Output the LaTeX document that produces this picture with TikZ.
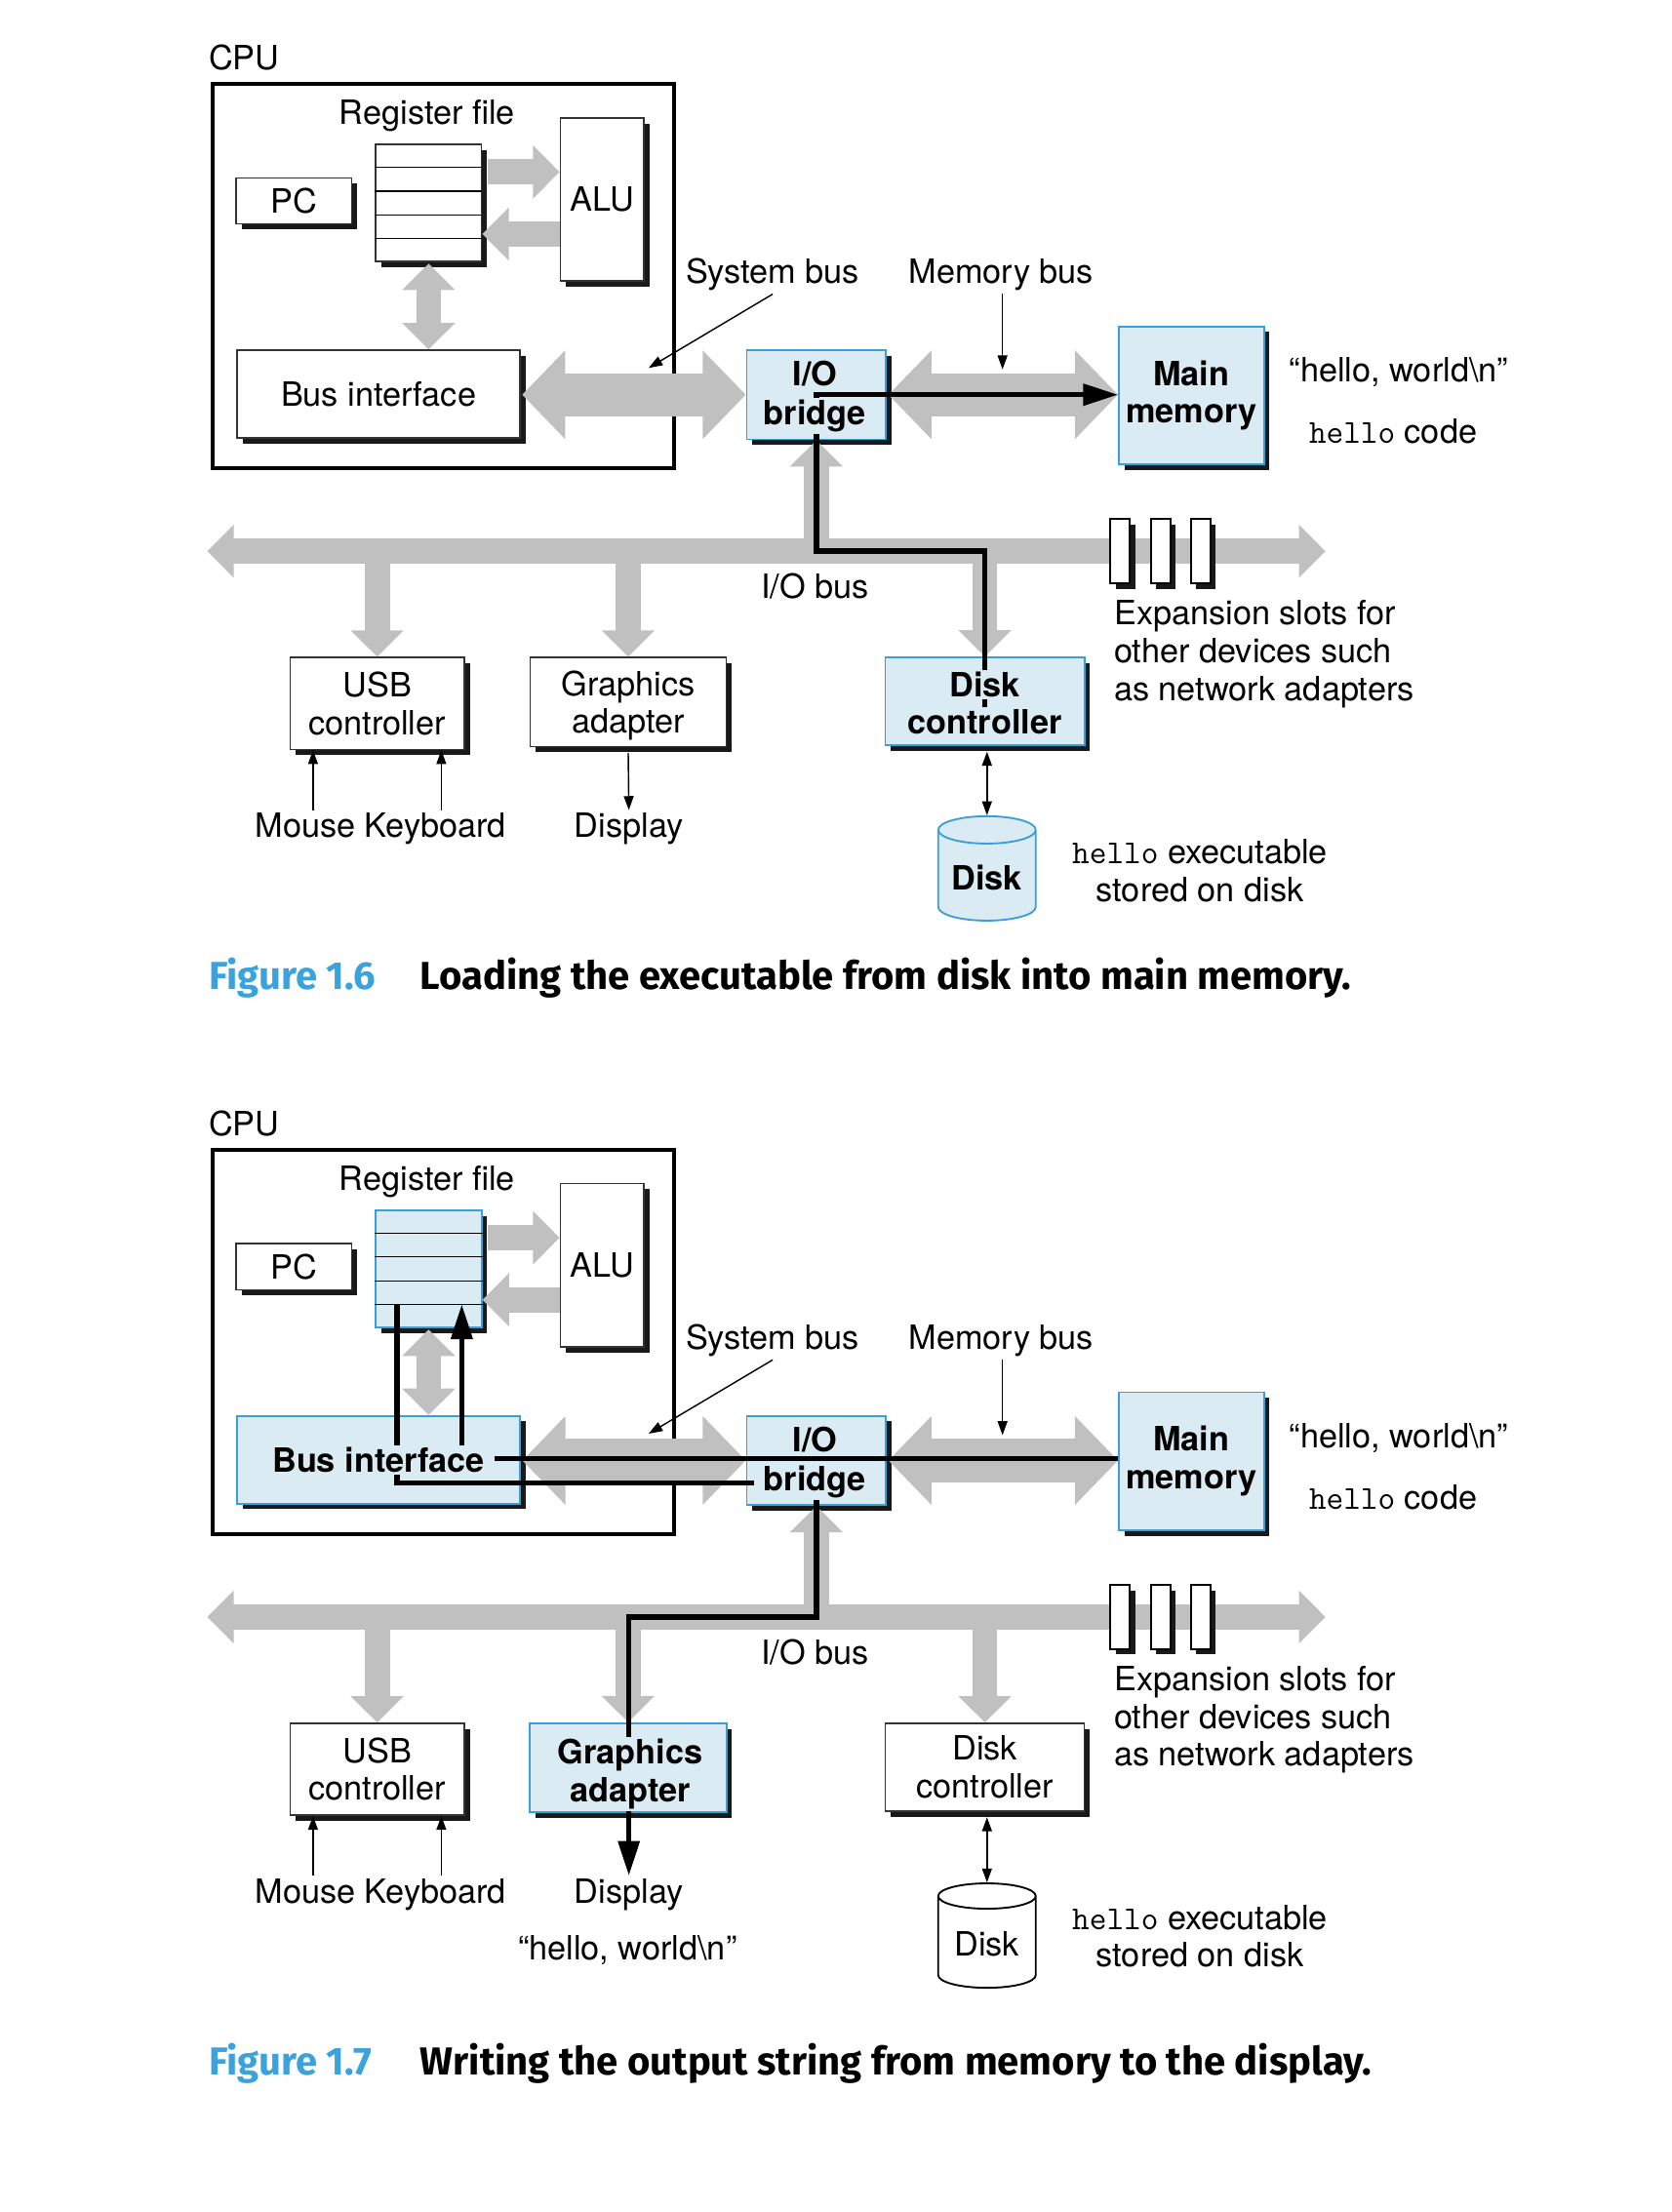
\documentclass[tikz,border=0pt]{standalone}
\usepackage{fontspec}
\setmainfont{TeX Gyre Heros}
\newfontfamily\capfont{Fira Sans}
\usetikzlibrary{arrows.meta,shadows,shapes.geometric,calc}
\definecolor{busgray}{HTML}{C0C0C0}
\definecolor{boxblue}{HTML}{DBEBF3}
\definecolor{edgeblue}{HTML}{3A9FD9}
\definecolor{figblue}{HTML}{3BA2DC}
\definecolor{boxedge}{HTML}{333333}
\tikzset{
  gtip/.tip={Triangle[length=19pt,width=37pt]},
  btip/.tip={Triangle[length=31pt,width=62pt]},
  dtip/.tip={Triangle[length=25pt,width=15pt]},
  ptip/.tip={Triangle[length=10pt,width=7pt]}
}
\begin{document}
\fontsize{24pt}{27pt}\selectfont
\begin{tikzpicture}[x=1.012pt, y=-1.012pt, inner sep=2pt,
  main box/.style={draw=boxedge, line width=1pt, fill=white, inner sep=0pt, align=center,
    drop shadow={shadow xshift=4pt, shadow yshift=-4pt, fill=black!90, opacity=1}},
  blue box/.style={main box, draw=edgeblue, line width=1.3pt, fill=boxblue, font=\bfseries},
  knock/.style={fill=boxblue, inner xsep=7pt, inner ysep=1.5pt, font=\bfseries, anchor=base},
  caption/.style={anchor=base west, font=\capfont\bfseries\fontsize{28pt}{32pt}\selectfont},
  bus/.style={draw=busgray, line width=31pt},
  link/.style={draw=busgray, line width=18pt},
  data/.style={line width=3.8pt, -dtip},
  pointer/.style={line width=1pt, -ptip},
  slot/.style={main box, draw=black, line width=1.3pt, minimum width=14pt, minimum height=46pt},
  disk/.style={cylinder, shape border rotate=90, aspect=0.36, draw, line width=1.3pt, minimum width=70pt, minimum height=75pt}]
\useasboundingbox (0,0) rectangle (1185.8,1569.1);
\foreach \fg/\dy in {a/0,b/756}{
\begin{scope}[shift={(0,\dy)}]
\node[draw, line width=2.8pt, inner sep=0pt, minimum width=331pt, minimum height=276pt](\fg1) at (314.5,196){};
\node[anchor=base west](\fg20) at (146,49.5){CPU};
\node(\fg21) at (303,82){Register file};
\node[main box, minimum width=83pt, minimum height=33pt](\fg2) at (208.5,142.5){PC};
\node[main box, minimum width=60pt, minimum height=117pt](\fg4) at (427,141.5){ALU};
\node[blue box, minimum width=100pt, minimum height=64pt](\fg6) at (579,280){};
\node[blue box, minimum width=104pt, minimum height=99pt](\fg7) at (845,280.5){Main\\memory};
\node[main box, minimum width=125pt, minimum height=66pt](\fg8) at (267.5,499){USB\\controller};
\node(\fg22) at (548,195){System bus};
\node(\fg23) at (710,195){Memory bus};
\node(\fg24) at (578,416){I/O bus};
\node[anchor=west, align=left](\fg25) at (788,464){Expansion slots for\\other devices such\\as network adapters};
\node(\fg26) at (270,588){Mouse Keyboard};
\node(\fg27) at (446,588){Display};
\node[align=center](\fg28) at (851,617.5){\texttt{hello} executable\\stored on disk};
\node(\fg29) at (992,264){“hello, world\textbackslash n”};
\node(\fg35) at (988,306){\texttt{hello} code};
\coordinate(\fg30) at (147,391);
\coordinate(\fg31) at (940,391);
\coordinate(\fg32) at (711,262);
\coordinate(\fg33) at (460,261);
\end{scope}}
\node[main box, minimum width=76pt, minimum height=84pt](a3) at (304,144){};
\node[main box, minimum width=203pt, minimum height=63pt](a5) at (268.5,279.5){Bus interface};
\node[main box, minimum width=141pt, minimum height=64pt](a9) at (445.5,498){Graphics\\\raisebox{0pt}[\height][0pt]{adapter}};
\node[blue box, minimum width=143pt, minimum height=63pt](a10) at (698.5,497.5){};
\node[disk, draw=edgeblue, fill=boxblue, font=\bfseries, anchor=shape center](a11) at (700,616){Disk};
\begin{scope}[shift={(0,756)}]
\node[blue box, minimum width=76pt, minimum height=84pt](b3) at (304,144){};
\node[blue box, minimum width=203pt, minimum height=63pt](b5) at (268.5,279.5){};
\node[blue box, minimum width=141pt, minimum height=64pt](b9) at (445.5,498){};
\node[main box, minimum width=143pt, minimum height=63pt](b10) at (698.5,497.5){Disk\\controller};
\node[disk, fill=white, anchor=shape center](b11) at (700,617){Disk};
\node(b36) at (445,627){“hello, world\textbackslash n”};
\end{scope}
\foreach \fg/\dy in {a/0,b/756}{
\begin{scope}[shift={(0,\dy)}]
\foreach \k in {1,...,4}
  \draw[line width=0.8pt] ($(\fg3.north west)!\k/5!(\fg3.south west)$) -- ($(\fg3.north east)!\k/5!(\fg3.south east)$);
\draw[link, -gtip, shorten <=4pt] (\fg3.east |- 0,122) -- (\fg4.west |- 0,122);
\draw[link, -gtip] (\fg4.west |- 0,166) -- (\fg3.east |- 0,166);
\draw[link, gtip-gtip, shorten <=1pt] (\fg3.south) -- (\fg3.south |- \fg5.north);
\draw[bus, btip-btip, shorten <=1pt] (\fg5.east |- 0,280) -- (\fg6.west |- 0,280);
\draw[bus, btip-btip, shorten <=1pt] (\fg6.east |- 0,280) -- (\fg7.west |- 0,280);
\draw[link, gtip-gtip] (\fg30) -- (\fg31);
\draw[link, -gtip] (\fg6.south |- \fg30) -- (\fg6.south);
\foreach \n in {8,9,10}
  \draw[link, -gtip] (\fg\n.north |- \fg30) -- (\fg\n.north);
\node[slot](\fg12) at (794.5,391){};
\node[slot](\fg13) at (823,391){};
\node[slot](\fg14) at (851.5,391){};
\draw[pointer] (\fg22.south) -- (\fg33);
\draw[pointer] (\fg32 |- \fg23.south) -- (\fg32);
\draw[pointer] (\fg26.north -| 222,0) -- (\fg8.south -| 222,0);
\draw[pointer] (\fg26.north -| 313,0) -- (\fg8.south -| 313,0);
\draw[pointer, ptip-ptip, shorten <=4pt] (\fg10.south -| \fg11.north) -- (\fg11.north);
\end{scope}}
\draw[pointer, shorten <=4pt] (a9.south) -- (a27.north);
\coordinate(a41) at (698.5,509.5);
\draw[data] (a41) -- (a41 |- a30) -| (a6.center) -- (a7.west |- a6.center);
\begin{scope}[shift={(0,756)}]
\coordinate(b40) at (327.5,169.2);
\coordinate(b41) at (281.5,169.2);
\draw[data] (b7.west |- 0,278.5) -| (b40);
\draw[data] (b41) |- (b6.center |- 0,296) -- (b6.center |- b30) -| (b27.north);
\end{scope}
\foreach \fg/\dy in {a/0,b/756}{
\begin{scope}[shift={(0,\dy)}]
\node[knock](\fg37) at (578,273.5){I/O};
\node[knock](\fg38) at (578,301.5){bridge};
\end{scope}}
\node[knock](a39) at (698.5,494.5){Disk};
\node[knock](a40) at (698.5,520.5){controller};
\begin{scope}[shift={(0,756)}]
\node[knock](b39) at (268.5,288.3){Bus interface};
\node[knock, anchor=center, align=center](b42) at (447,502.5){Graphics\\adapter};
\end{scope}
\node[caption, text=figblue](a50) at (146,702){Figure 1.6};
\node[caption](a51) at (296,702){Loading the executable from disk into main memory.};
\node[caption, text=figblue](b50) at (146,1472){Figure 1.7};
\node[caption](b51) at (296,1472){Writing the output string from memory to the display.};
\end{tikzpicture}
\end{document}
